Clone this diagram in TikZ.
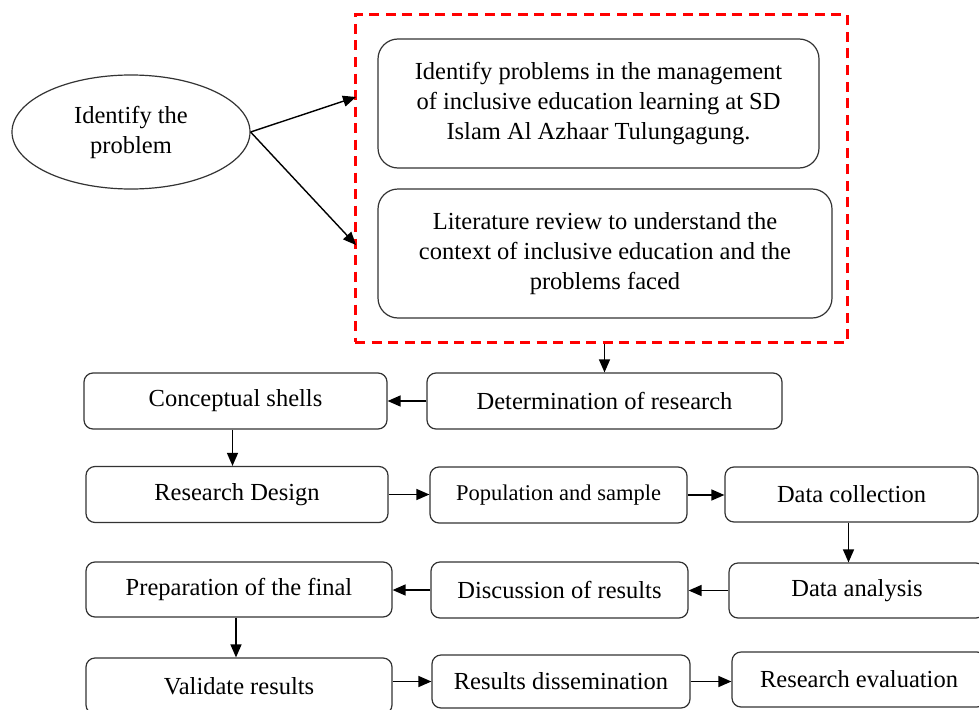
\documentclass[tikz,border=0pt]{standalone}
\usepackage{fontspec}
\setmainfont{Liberation Serif}
\usetikzlibrary{arrows.meta,shapes.geometric,calc}
\definecolor{edgegray}{HTML}{333333}
\definecolor{framered}{HTML}{FF0000}
\tikzset{
  txt/.style={font=\fontsize{24.5}{30}\selectfont, align=center, text=black},
  stepbox/.style={txt, draw=edgegray, line width=1.2pt, rounded corners=9pt, inner sep=0pt},
  bigbox/.style={txt, draw=edgegray, line width=1.2pt, rounded corners=20pt, inner sep=0pt},
  oval/.style={txt, ellipse, draw=edgegray, line width=1.2pt, inner sep=0pt},
  frame/.style={draw=framered, line width=3pt, dash pattern=on 10pt off 6.5pt, inner sep=0pt},
  arr/.style={draw=black, line width=1.4pt, -{Triangle[length=13pt,width=11pt]}}
}
\begin{document}
\begin{tikzpicture}[x=1pt,y=-1pt]
\useasboundingbox (0,0) rectangle (979,709);
\clip (0,0) rectangle (979,709);
\fill[white] (0,0) rectangle (979,709);

% dashed frame
\node[frame, minimum width=492pt, minimum height=327pt] (frm) at (601,178.5) {};

% top part
\node[oval, minimum width=238pt, minimum height=114pt] (ell) at (131,132) {Identify the\\problem};
\node[bigbox, minimum width=441pt, minimum height=129pt] (b1) at (598.5,103.5)
  {Identify problems in the management\\of inclusive education learning at SD\\Islam Al Azhaar Tulungagung.};
\node[bigbox, minimum width=454pt, minimum height=129pt] (b2) at (605,253.5)
  {Literature review to understand the\\context of inclusive education and the\\problems faced};

\coordinate (t1) at (356,97);
\coordinate (t2) at (356,245);

% flow boxes
\node[stepbox, minimum width=355pt, minimum height=56pt] (determ) at (604.5,401) {Determination of research};
\node[stepbox, minimum width=303pt, minimum height=56pt] (concept) at (235.5,401) {Conceptual shells};
\node[stepbox, minimum width=302pt, minimum height=56pt] (design) at (237,494.5) {Research Design};
\node[stepbox, minimum width=257pt, minimum height=56pt, font=\fontsize{22.5}{27}\selectfont] (pop) at (558.5,495) {Population and sample};
\node[stepbox, minimum width=253pt, minimum height=55pt] (collect) at (851.5,494.5) {Data collection};
\node[stepbox, minimum width=256pt, minimum height=55pt] (analysis) at (857,590.5) {Data analysis};
\node[stepbox, minimum width=257pt, minimum height=56pt] (discuss) at (559.5,590) {Discussion of results};
\node[stepbox, minimum width=306pt, minimum height=55pt] (prep) at (239,589.5) {Preparation of the final};
\node[stepbox, minimum width=306pt, minimum height=56pt] (valid) at (239,686) {Validate results};
\node[stepbox, minimum width=258pt, minimum height=53pt] (dissem) at (561,681.5) {Results dissemination};
\node[stepbox, minimum width=254pt, minimum height=55pt] (evalu) at (859,679.5) {Research evaluation};

% connectors
\draw[arr] (ell.east) -- (t1);
\draw[arr] (ell.east) -- (t2);
\draw[arr] (determ.north |- frm.south) -- (determ.north);
\draw[arr] (determ.west) -- (determ.west -| concept.east);
\draw[arr] ([xshift=-3pt]concept.south) -- ([xshift=-3pt]concept.south |- design.north);
\draw[arr] (design.east) -- (design.east -| pop.west);
\draw[arr] (pop.east) -- (pop.east -| collect.west);
\draw[arr] ([xshift=-3pt]collect.south) -- ([xshift=-3pt]collect.south |- analysis.north);
\draw[arr] (analysis.west) -- (analysis.west -| discuss.east);
\draw[arr] (discuss.west) -- (discuss.west -| prep.east);
\draw[arr] ([xshift=-3pt]prep.south) -- ([xshift=-3pt]prep.south |- valid.north);
\draw[arr] (valid.east |- dissem.west) -- (dissem.west);
\draw[arr] (dissem.east) -- (dissem.east -| evalu.west);
\end{tikzpicture}
\end{document}
